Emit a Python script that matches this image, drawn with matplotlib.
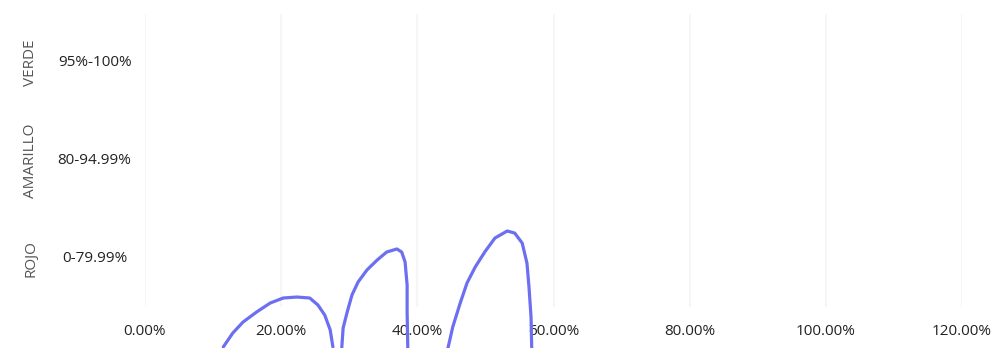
import matplotlib.pyplot as plt
from matplotlib.ticker import PercentFormatter

# Categories (bottom to top) and their ranges
categories = ['ROJO', 'AMARILLO', 'VERDE']
ranges = ['0-79.99%', '80-94.99%', '95%-100%']
x_ticks = [0, 0.2, 0.4, 0.6, 0.8, 1.0, 1.2]

# hand-drawn arcs (x as fraction, y in row units)
arc1_x = [0.115, 0.129, 0.144, 0.164, 0.184, 0.203, 0.223, 0.242, 0.254, 0.264, 0.272, 0.276]
arc1_y = [-0.409, -0.266, -0.154, -0.051, 0.041, 0.092, 0.102, 0.092, 0.020, -0.082, -0.235, -0.409]
arc2_x = [0.289, 0.291, 0.297, 0.304, 0.313, 0.326, 0.341, 0.355, 0.370, 0.377, 0.382, 0.385, 0.385, 0.386]
arc2_y = [-0.420, -0.215, -0.051, 0.123, 0.256, 0.379, 0.481, 0.563, 0.594, 0.563, 0.461, 0.225, -0.051, -0.420]
arc3_x = [0.445, 0.452, 0.463, 0.473, 0.485, 0.499, 0.514, 0.532, 0.543, 0.554, 0.561, 0.564, 0.567, 0.568]
arc3_y = [-0.420, -0.205, 0.041, 0.246, 0.409, 0.563, 0.706, 0.778, 0.757, 0.655, 0.450, 0.205, -0.102, -0.420]

plt.rcParams['font.family'] = ['Open Sans', 'DejaVu Sans']

fig = plt.figure(figsize=(9.93, 3.48), dpi=100)
ax = fig.add_axes([145 / 993, 41 / 348, 817 / 993, 293 / 348])

for xs, ys in [(arc1_x, arc1_y), (arc2_x, arc2_y), (arc3_x, arc3_y)]:
    ax.plot(xs, ys, color='#6b6ff0', lw=2.3, clip_on=False,
            solid_capstyle='round', solid_joinstyle='round')

ax.set_xlim(0, 1.2)
ax.set_ylim(0, 3)
ax.set_xticks(x_ticks)
ax.xaxis.set_major_formatter(PercentFormatter(1, decimals=2))
ax.tick_params(axis='x', length=0, pad=12, labelsize=11, labelcolor='#222222')
ax.set_yticks([])
for s in ax.spines.values():
    s.set_visible(False)
ax.grid(axis='x', color='#f6f6f6', lw=1.5)

for i, (cat, rng) in enumerate(zip(categories, ranges)):
    y = i + 0.5
    ax.text(-0.168, y, cat, rotation=90, ha='center', va='center',
            fontsize=11, color='#555555')
    ax.text(-0.074, y, rng, ha='center', va='center', fontsize=11, color='#222222')

fig.savefig('out.png', dpi=100)
